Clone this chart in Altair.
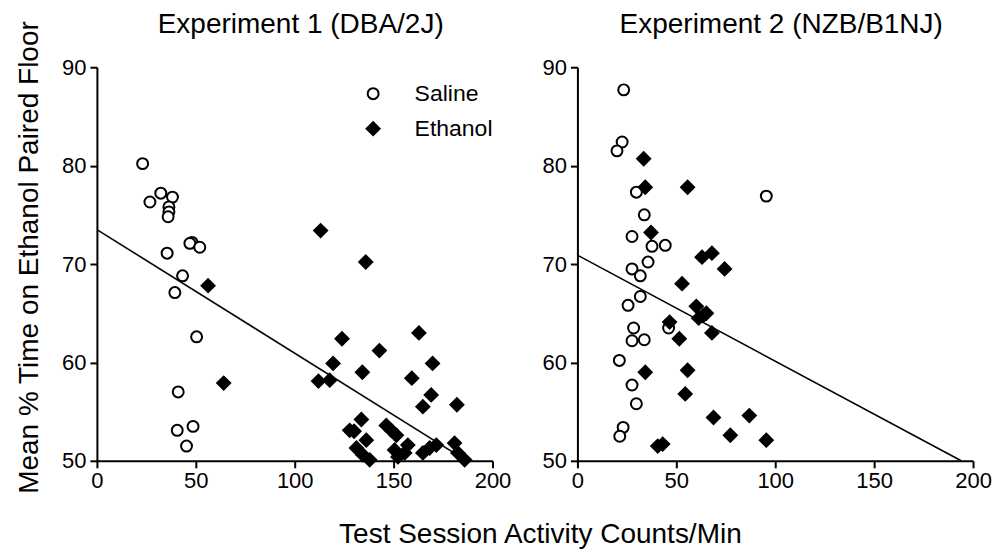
import altair as alt
import pandas as pd

# ---------------- data ----------------
# Experiment 1 (DBA/2J)
e1_sal_x = [23.1, 26.8, 32.3, 38.2, 36.4, 36.4, 36.0, 48.1, 47.0, 52.0, 35.5, 43.3, 39.4, 50.4, 41.1, 40.6, 48.6, 45.3]
e1_sal_y = [80.2, 76.3, 77.2, 76.8, 75.8, 75.3, 74.8, 72.2, 72.1, 71.7, 71.1, 68.8, 67.1, 62.6, 57.0, 53.1, 53.5, 51.5]
e1_eth_x = [56.2, 64.1, 113.1, 135.9, 123.9, 142.8, 162.8, 169.7, 119.4, 112.0, 117.7, 134.2, 159.2, 169.0,
            164.8, 182.0, 133.7, 127.8, 130.0, 136.2, 146.3, 148.8, 151.4, 131.2, 134.5, 137.9, 150.5, 152.2,
            157.2, 155.6, 164.8, 168.2, 171.6, 180.8, 182.5, 185.9]
e1_eth_y = [67.8, 57.9, 73.4, 70.2, 62.4, 61.2, 63.0, 59.9, 59.9, 58.1, 58.2, 59.0, 58.4, 56.7,
            55.5, 55.7, 54.2, 53.1, 53.0, 52.1, 53.6, 53.1, 52.6, 51.3, 50.6, 50.1, 51.1, 50.4,
            51.6, 50.8, 50.8, 51.3, 51.6, 51.8, 50.8, 50.1]
e1_fit_x = [0, 187]
e1_fit_y = [73.5, 50.0]

# Experiment 2 (NZB/B1NJ)
e2_sal_x = [23.4, 22.6, 20.0, 29.8, 33.8, 27.6, 44.4, 37.7, 35.7, 27.6, 31.8, 31.8, 25.6, 46.1, 28.4, 27.6,
            33.8, 21.2, 27.6, 29.8, 23.1, 21.4, 95.5]
e2_sal_y = [87.7, 82.4, 81.5, 77.3, 75.0, 72.8, 71.9, 71.8, 70.2, 69.5, 68.8, 66.7, 65.8, 63.5, 63.5, 62.2,
            62.3, 60.2, 57.7, 55.8, 53.4, 52.5, 76.9]
e2_eth_x = [33.5, 34.3, 55.7, 37.2, 63.0, 68.0, 52.9, 60.1, 63.8, 61.3, 46.6, 68.0, 51.5, 34.3, 55.7, 54.5,
            68.8, 40.6, 43.1, 74.4, 65.2, 86.9, 77.3, 95.5]
e2_eth_y = [80.7, 77.8, 77.8, 73.2, 70.7, 71.1, 68.0, 65.7, 64.8, 64.5, 64.1, 63.0, 62.4, 59.0, 59.2, 56.8,
            54.4, 51.5, 51.7, 69.5, 65.0, 54.6, 52.6, 52.1]
e2_fit_x = [0, 194]
e2_fit_y = [70.9, 50.0]

groups = ["Saline", "Ethanol"]
x_ticks = [0, 50, 100, 150, 200]
y_ticks = [50, 60, 70, 80, 90]

FONT = "Liberation Sans"


def pts(sx, sy, ex, ey):
    rows = [{"x": a, "y": b, "g": "Saline"} for a, b in zip(sx, sy)]
    rows += [{"x": a, "y": b, "g": "Ethanol"} for a, b in zip(ex, ey)]
    return pd.DataFrame(rows)


def panel(title, df, fx, fy, show_ytitle, show_legend, title_offset):
    xs = alt.Scale(domain=[0, 200], nice=False, zero=False)
    ys = alt.Scale(domain=[50, 90], nice=False, zero=False)
    xax = alt.Axis(values=x_ticks, title=None, labelFlush=False)
    if show_ytitle:
        yax = alt.Axis(values=y_ticks, title="Mean % Time on Ethanol Paired Floor", titleY=190)
    else:
        yax = alt.Axis(values=y_ticks, title=None)
    if show_legend:
        leg = alt.Legend(title=None, orient="none", legendX=265, legendY=15,
                         symbolStrokeWidth=2, labelFontSize=23,
                         labelFont=FONT, labelColor="black", labelOffset=30,
                         rowPadding=11, symbolStrokeColor="black")
    else:
        leg = None
    points = alt.Chart(df).mark_point(strokeWidth=2, opacity=1).encode(
        x=alt.X("x:Q", scale=xs, axis=xax),
        y=alt.Y("y:Q", scale=ys, axis=yax),
        shape=alt.Shape("g:N", scale=alt.Scale(domain=groups, range=["circle", "diamond"]), legend=leg),
        fill=alt.Fill("g:N", scale=alt.Scale(domain=groups, range=["white", "black"]), legend=leg),
        stroke=alt.Stroke("g:N", scale=alt.Scale(domain=groups, range=["black", "black"]), legend=leg),
        size=alt.Size("g:N", scale=alt.Scale(domain=groups, range=[120, 170]), legend=leg),
    )
    fit = alt.Chart(pd.DataFrame({"x": fx, "y": fy})).mark_line(color="black", strokeWidth=1.6).encode(
        x=alt.X("x:Q", scale=xs, axis=xax),
        y=alt.Y("y:Q", scale=ys, axis=yax),
    )
    return alt.layer(fit, points).properties(
        width=396, height=394,
        title=alt.TitleParams(title, fontSize=28, font=FONT, fontWeight="normal", color="black",
                              offset=title_offset, frame="group", dx=6),
    )


left = panel("Experiment 1 (DBA/2J)", pts(e1_sal_x, e1_sal_y, e1_eth_x, e1_eth_y),
             e1_fit_x, e1_fit_y, True, True, -19)
right = panel("Experiment 2 (NZB/B1NJ)", pts(e2_sal_x, e2_sal_y, e2_eth_x, e2_eth_y),
              e2_fit_x, e2_fit_y, False, False, 17)

chart = alt.hconcat(left, right, spacing=30).properties(
    padding={"left": 7, "top": 3, "right": 5, "bottom": 0},
    title=alt.TitleParams("Test Session Activity Counts/Min", orient="bottom", anchor="middle",
                          fontSize=28, font=FONT, fontWeight="normal", color="black", offset=27, dx=37),
).configure_view(stroke=None).configure_axis(
    grid=False, domainColor="black", domainWidth=2, tickColor="black", tickWidth=2, tickSize=7,
    labelFontSize=22, labelFont=FONT, labelColor="black",
    titleFontSize=28, titleFont=FONT, titleFontWeight="normal", titleColor="black",
).configure_axisX(labelPadding=3).configure_axisY(labelPadding=4, titlePadding=18
).configure_title(anchor="middle")

chart.save("out.html", embed_options={"renderer": "svg", "actions": False})
